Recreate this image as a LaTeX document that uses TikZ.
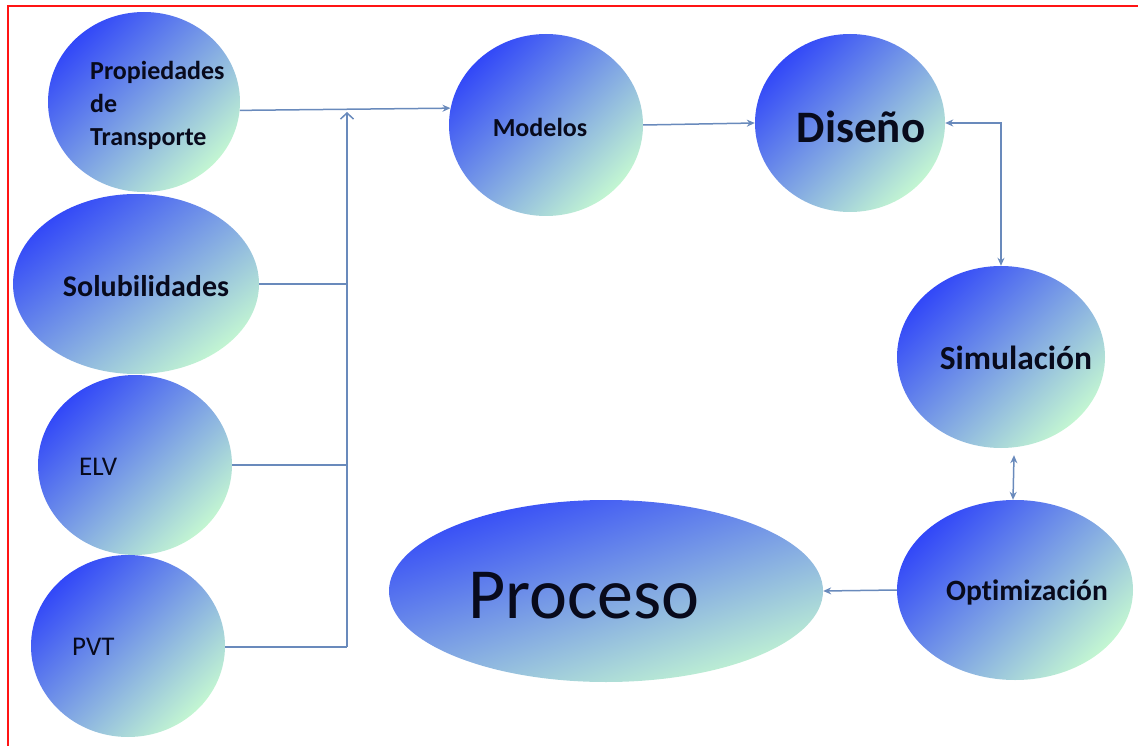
\documentclass[tikz,border=0pt]{standalone}
\usepackage{fontspec}
\setmainfont{Carlito}[Ligatures=NoCommon]
\usetikzlibrary{shapes.geometric,arrows.meta}
\definecolor{cTop}{RGB}{50,72,248}
\definecolor{cMid}{RGB}{150,180,225}
\definecolor{cBot}{RGB}{195,246,210}
\definecolor{cLine}{RGB}{105,138,188}
\definecolor{cText}{RGB}{8,10,28}
\definecolor{cFrame}{RGB}{255,20,20}
\begin{document}
\begin{tikzpicture}[x=1pt,y=-1pt,
  ball/.style={ellipse, inner sep=0pt, draw=none,
    top color=cTop, middle color=cMid, bottom color=cBot, shading angle=45},
  lbl/.style={text=cText, inner sep=0pt, font=\bfseries\fontsize{26}{33}\selectfont},
  lblr/.style={text=cText, inner sep=0pt, font=\fontsize{27}{33}\selectfont},
  conn/.style={draw=cLine, line width=1.5pt},
  tip/.style={-{Stealth[length=8pt,width=7pt]}},
  frame/.style={draw=cFrame, line width=1.3pt}]
\useasboundingbox (0,0) rectangle (1138,746);
\draw[frame] (8,746) -- (8,6) -- (1138,6);

% ellipses
\node[ball, minimum width=192pt, minimum height=180pt] (prop) at (144,102) {};
\node[ball, minimum width=246pt, minimum height=180pt, shading angle=38] (sol) at (136,284) {};
\node[ball, minimum width=194pt, minimum height=180pt] (elv) at (135,465) {};
\node[ball, minimum width=194pt, minimum height=182pt] (pvt) at (128,646) {};
\node[ball, minimum width=194pt, minimum height=182pt] (mod) at (546,125) {};
\node[ball, minimum width=190pt, minimum height=178pt] (dis) at (850,123) {};
\node[ball, minimum width=208pt, minimum height=182pt] (sim) at (1001,357) {};
\node[ball, minimum width=236pt, minimum height=180pt] (opt) at (1015,590) {};
\node[ball, minimum width=434pt, minimum height=182pt, shading angle=18] (proc) at (606,591) {};

% labels
\node[lbl, align=left, anchor=west] (propt) at (90,105) {Propiedades\\de\\Transporte};
\node[lbl, font=\bfseries\fontsize{30}{33}\selectfont] (solt) at (146,286) {Solubilidades};
\node[lblr, anchor=west] (elvt) at (79,467) {ELV};
\node[lblr, anchor=west] (pvtt) at (72,647) {PVT};
\node[lbl] (modt) at (540,127) {Modelos};
\node[lbl, font=\bfseries\fontsize{45}{50}\selectfont] (dist) at (861,127) {Diseño};
\node[lbl, font=\bfseries\fontsize{33.5}{36}\selectfont] (simt) at (1016,358) {Simulación};
\node[lbl, font=\bfseries\fontsize{29.5}{33}\selectfont] (optt) at (1027,592) {Optimización};
\node[lblr, font=\fontsize{72}{80}\selectfont] (proct) at (584,596) {Proceso};

% bus
\coordinate (bustop) at (347,112);
\coordinate (busbot) at (347,647);

\draw[conn] (pvt.east |- busbot) -- (busbot);
\draw[conn, -{Straight Barb[length=6pt,width=13pt]}] (busbot) -- (bustop);
\draw[conn] (sol.east) -- (sol.east -| busbot);
\draw[conn] (elv.east) -- (elv.east -| busbot);
\draw[conn, tip] (prop.-5) -- (mod.170);
\draw[conn, tip] (mod.east) -- (dis.west);
\draw[conn, {Stealth[length=8pt,width=7pt]}-{Stealth[length=8pt,width=7pt]}]
  (dis.east) -| (sim.north);
\draw[conn, {Stealth[length=8pt,width=7pt]}-{Stealth[length=8pt,width=7pt]}]
  ([xshift=13pt]sim.south) ++(0,7) -- ([xshift=-2pt]opt.north);
\draw[conn, tip] (opt.west) -- (proc.east);
\end{tikzpicture}
\end{document}
